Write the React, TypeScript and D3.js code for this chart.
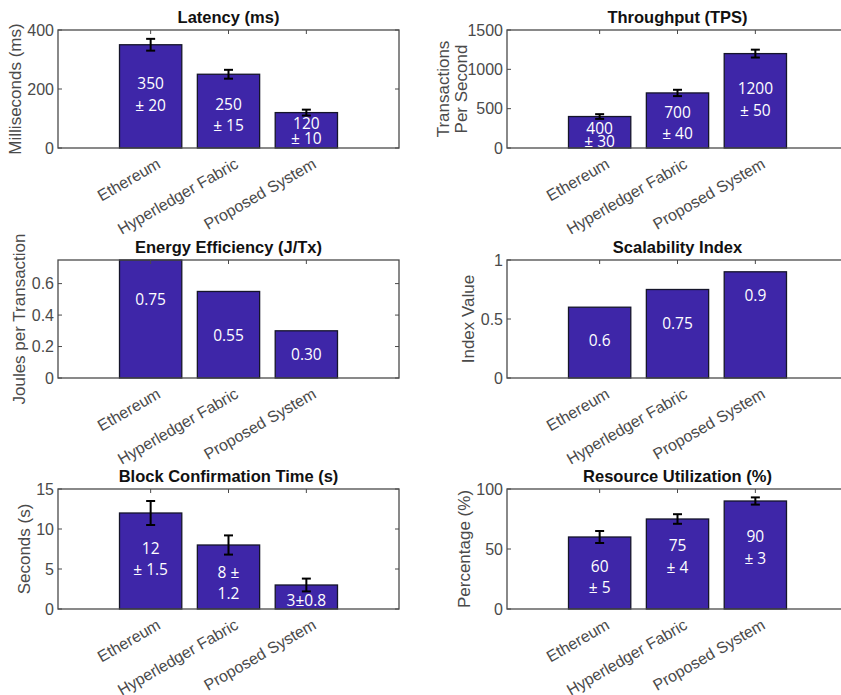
import React from "react";
import * as d3 from "d3";

const categories = ["Ethereum", "Hyperledger Fabric", "Proposed System"];

const latencyValues = [350, 250, 120];
const latencyErrors = [20, 15, 10];
const latencyLabels = [["350", "± 20"], ["250", "± 15"], ["120", "± 10"]];
const latencyLabelPos = [183, 114, 58];
const latencyTicks = [0, 200, 400];

const throughputValues = [400, 700, 1200];
const throughputErrors = [30, 40, 50];
const throughputLabels = [["400", "± 30"], ["700", "± 40"], ["1200", "± 50"]];
const throughputLabelPos = [170, 325, 625];
const throughputTicks = [0, 500, 1000, 1500];

const energyValues = [0.75, 0.55, 0.3];
const energyLabels = [["0.75"], ["0.55"], ["0.30"]];
const energyLabelPos = [0.5, 0.275, 0.15];
const energyTicks = [0, 0.2, 0.4, 0.6];
const energyDomain = [0, 0.75];

const scalabilityValues = [0.6, 0.75, 0.9];
const scalabilityLabels = [["0.6"], ["0.75"], ["0.9"]];
const scalabilityLabelPos = [0.32, 0.47, 0.7];
const scalabilityTicks = [0, 0.5, 1];

const blockValues = [12, 8, 3];
const blockErrors = [1.5, 1.2, 0.8];
const blockLabels = [["12", "± 1.5"], ["8 ±", "1.2"], ["3±0.8"]];
const blockLabelPos = [6.3, 3.3, 1.1];
const blockTicks = [0, 5, 10, 15];

const resourceValues = [60, 75, 90];
const resourceErrors = [5, 4, 3];
const resourceLabels = [["60", "± 5"], ["75", "± 4"], ["90", "± 3"]];
const resourceLabelPos = [27, 44, 51.5];
const resourceTicks = [0, 50, 100];

type Panel = {
  title: string;
  ylabel: string[];
  values: number[];
  errors?: number[];
  labels: string[][];
  labelPos: number[];
  ticks: number[];
  domain: number[];
  x0: number;
  top: number;
  bottom: number;
};

const W = 341;
const LEFT_X = 58;
const RIGHT_X = 507;

const panels: Panel[] = [
  { title: "Latency (ms)", ylabel: ["Milliseconds (ms)"], values: latencyValues, errors: latencyErrors, labels: latencyLabels, labelPos: latencyLabelPos, ticks: latencyTicks, domain: [0, 400], x0: LEFT_X, top: 30, bottom: 148 },
  { title: "Throughput (TPS)", ylabel: ["Transactions", "Per Second"], values: throughputValues, errors: throughputErrors, labels: throughputLabels, labelPos: throughputLabelPos, ticks: throughputTicks, domain: [0, 1500], x0: RIGHT_X, top: 30, bottom: 148 },
  { title: "Energy Efficiency (J/Tx)", ylabel: ["Joules per Transaction"], values: energyValues, labels: energyLabels, labelPos: energyLabelPos, ticks: energyTicks, domain: energyDomain, x0: LEFT_X, top: 260, bottom: 378 },
  { title: "Scalability Index", ylabel: ["Index Value"], values: scalabilityValues, labels: scalabilityLabels, labelPos: scalabilityLabelPos, ticks: scalabilityTicks, domain: [0, 1], x0: RIGHT_X, top: 260, bottom: 378 },
  { title: "Block Confirmation Time (s)", ylabel: ["Seconds (s)"], values: blockValues, errors: blockErrors, labels: blockLabels, labelPos: blockLabelPos, ticks: blockTicks, domain: [0, 15], x0: LEFT_X, top: 489, bottom: 609 },
  { title: "Resource Utilization (%)", ylabel: ["Percentage (%)"], values: resourceValues, errors: resourceErrors, labels: resourceLabels, labelPos: resourceLabelPos, ticks: resourceTicks, domain: [0, 100], x0: RIGHT_X, top: 489, bottom: 609 },
];

const BAR_COLOR = "rgb(62,38,168)";
const AXIS_COLOR = "#4a4a4a";
const TEXT_COLOR = "#4a4a4a";
const FONT = "'Liberation Sans', Arial, Helvetica, sans-serif";
const LABEL_FONT = "'Open Sans', 'Noto Sans', sans-serif";

function fmt(v: number) {
  return String(v);
}
function labelWidth(s: string) {
  let w = 0;
  for (const c of s) w += c === "." ? 4.4 : 8.9;
  return w;
}

function PanelView({ p }: { p: Panel }) {
  const x = d3.scaleLinear().domain([-0.19, 4.19]).range([p.x0, p.x0 + W]);
  const y = d3.scaleLinear().domain(p.domain).range([p.bottom, p.top]);
  const bw = x(0.8) - x(0);
  const maxTickW = d3.max(p.ticks.map((t) => labelWidth(fmt(t)))) || 0;
  const ylabX = p.x0 - 4 - maxTickW - 12;
  const midY = (p.top + p.bottom) / 2;
  const tickLen = 4;
  const n = p.ylabel.length;
  return (
    <g>
      {p.values.map((v, i) => (
        <rect key={"b" + i} x={x(i + 1) - bw / 2} y={y(v)} width={bw} height={y(0) - y(v)} fill={BAR_COLOR} stroke="#15152a" strokeWidth={1.3} />
      ))}
      {p.errors &&
        p.values.map((v, i) => {
          const e = p.errors![i];
          const cx = x(i + 1);
          return (
            <g key={"e" + i} stroke="#000" strokeWidth={2}>
              <line x1={cx} x2={cx} y1={y(v - e)} y2={y(v + e)} />
              <line x1={cx - 4.5} x2={cx + 4.5} y1={y(v - e)} y2={y(v - e)} />
              <line x1={cx - 4.5} x2={cx + 4.5} y1={y(v + e)} y2={y(v + e)} />
            </g>
          );
        })}
      {p.labels.map((lines, i) => {
        const barH = y(0) - y(p.values[i]);
        const sp = Math.min(21.5, barH * 0.42);
        const cy = y(p.labelPos[i]);
        return lines.map((t, j) => (
          <text key={"l" + i + "_" + j} x={x(i + 1)} y={cy + (j - (lines.length - 1) / 2) * sp} textAnchor="middle" dominantBaseline="central" fill="#fff" fontSize={15.5} fontFamily={LABEL_FONT}>
            {t}
          </text>
        ));
      })}
      <rect x={p.x0} y={p.top} width={W} height={p.bottom - p.top} fill="none" stroke={AXIS_COLOR} strokeWidth={1.3} />
      {p.ticks.map((t) => (
        <g key={"t" + t}>
          <line x1={p.x0} x2={p.x0 + tickLen} y1={y(t)} y2={y(t)} stroke={AXIS_COLOR} strokeWidth={1} />
          <line x1={p.x0 + W} x2={p.x0 + W - tickLen} y1={y(t)} y2={y(t)} stroke={AXIS_COLOR} strokeWidth={1} />
          <text x={p.x0 - 4} y={y(t)} textAnchor="end" dominantBaseline="central" fill={TEXT_COLOR} fontSize={16} fontFamily={FONT}>
            {fmt(t)}
          </text>
        </g>
      ))}
      {categories.map((c, i) => (
        <g key={"x" + i}>
          <line x1={x(i + 1)} x2={x(i + 1)} y1={p.top} y2={p.top + tickLen} stroke={AXIS_COLOR} strokeWidth={1} />
          <text transform={`translate(${x(i + 1) + 11},${p.bottom + 19}) rotate(-30)`} textAnchor="end" fill={TEXT_COLOR} fontSize={16} fontFamily={FONT}>
            {c}
          </text>
        </g>
      ))}
      {p.ylabel.map((l, j) => {
        const lx = n > 1 ? ylabX + 6.5 - (n - 1 - j) * 18 : ylabX;
        return (
          <text key={"yl" + j} transform={`translate(${lx},${midY}) rotate(-90)`} textAnchor="middle" dominantBaseline="central" fill={TEXT_COLOR} fontSize={17} fontFamily={FONT}>
            {l}
          </text>
        );
      })}
      <text x={p.x0 + W / 2} y={p.top - 7} textAnchor="middle" fill="#111" fontSize={16.5} fontWeight="bold" fontFamily={FONT}>
        {p.title}
      </text>
    </g>
  );
}

export default function App() {
  return (
    <div style={{ position: "absolute", left: 0, top: 0 }}>
      <svg width={841} height={695} style={{ display: "block", background: "#fff" }}>
        {panels.map((p, i) => (
          <PanelView key={i} p={p} />
        ))}
      </svg>
    </div>
  );
}
